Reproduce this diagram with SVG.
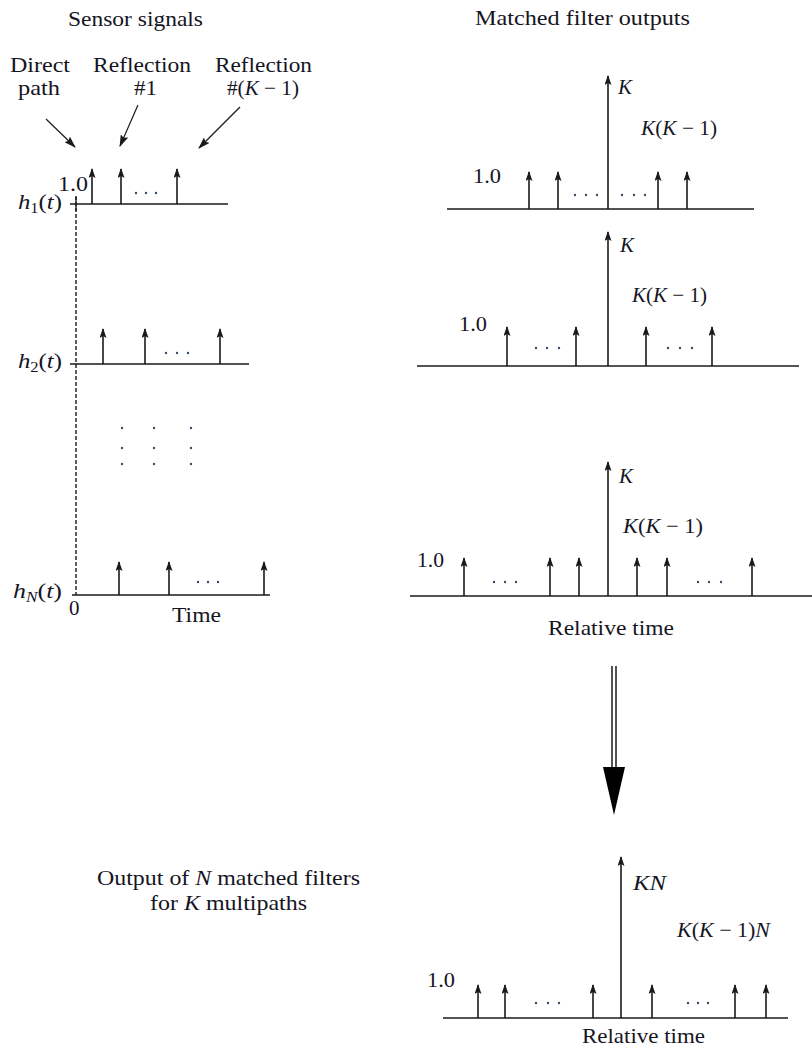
<svg xmlns="http://www.w3.org/2000/svg" width="812" height="1046" viewBox="0 0 812 1046">
<defs>
<style>
.t{font-family:"Liberation Serif","Times New Roman",Times,serif;font-size:21px;fill:#15151f}
.i{font-style:italic}
.ax{stroke:#1a1a1a;stroke-width:1.6;fill:none}
.imp{stroke:#1a1a1a;stroke-width:1.6;fill:none;marker-end:url(#ah)}
.ptr{stroke:#1a1a1a;stroke-width:1.2;fill:none;marker-end:url(#ap)}
.dot{fill:#3a4a6a}
</style>
<marker id="ah" viewBox="0 0 10 7" refX="9" refY="3.5" markerWidth="10" markerHeight="7" markerUnits="userSpaceOnUse" orient="auto">
<path d="M0,0 L10,3.5 L0,7 L2,3.5 Z" fill="#1a1a1a"/>
</marker>
<marker id="ap" viewBox="0 0 12 8" refX="11" refY="4" markerWidth="12" markerHeight="8" markerUnits="userSpaceOnUse" orient="auto">
<path d="M0,0 L12,4 L0,8 L2,4 Z" fill="#1a1a1a"/>
</marker>
</defs>

<g id="titles">
<text class="t" x="68" y="26" textLength="135" lengthAdjust="spacingAndGlyphs">Sensor signals</text>
<text class="t" x="475" y="25" textLength="215" lengthAdjust="spacingAndGlyphs">Matched filter outputs</text>
</g>

<g id="path-labels">
<text class="t" x="10" y="72" textLength="60" lengthAdjust="spacingAndGlyphs">Direct</text>
<text class="t" x="18" y="95" textLength="42" lengthAdjust="spacingAndGlyphs">path</text>
<text class="t" x="93" y="72" textLength="98" lengthAdjust="spacingAndGlyphs">Reflection</text>
<text class="t" x="134" y="95" textLength="23" lengthAdjust="spacingAndGlyphs">#1</text>
<text class="t" x="215" y="72" textLength="97" lengthAdjust="spacingAndGlyphs">Reflection</text>
<text class="t" x="227" y="95" textLength="72" lengthAdjust="spacingAndGlyphs">#(<tspan class="i">K</tspan> − 1)</text>
</g>

<g id="sensor-h1">
<text class="t" x="18" y="209" font-size="22" textLength="44" lengthAdjust="spacingAndGlyphs"><tspan class="i">h</tspan><tspan font-size="14" dy="4">1</tspan><tspan dy="-4">(</tspan><tspan class="i">t</tspan>)</text>
<text class="t" x="58" y="191" textLength="30" lengthAdjust="spacingAndGlyphs">1.0</text>
<line class="ax" x1="70" y1="204" x2="228" y2="204"/>
<line class="imp" x1="92" y1="204" x2="92" y2="169"/>
<line class="imp" x1="121" y1="204" x2="121" y2="169"/>
<line class="imp" x1="177" y1="204" x2="177" y2="169"/>
<circle class="dot" cx="136" cy="193" r="1.2"/><circle class="dot" cx="146" cy="193" r="1.2"/><circle class="dot" cx="156" cy="193" r="1.2"/>
</g>

<g id="sensor-h2">
<text class="t" x="18" y="368" font-size="22" textLength="44" lengthAdjust="spacingAndGlyphs"><tspan class="i">h</tspan><tspan font-size="14" dy="4">2</tspan><tspan dy="-4">(</tspan><tspan class="i">t</tspan>)</text>
<line class="ax" x1="70" y1="364" x2="249" y2="364"/>
<line class="imp" x1="103" y1="364" x2="103" y2="329"/>
<line class="imp" x1="145" y1="364" x2="145" y2="329"/>
<line class="imp" x1="220" y1="364" x2="220" y2="329"/>
<circle class="dot" cx="166" cy="353" r="1.2"/><circle class="dot" cx="177" cy="353" r="1.2"/><circle class="dot" cx="188" cy="353" r="1.2"/>
</g>

<g id="sensor-dots">
<circle class="dot" cx="122" cy="428" r="1.2"/><circle class="dot" cx="154" cy="428" r="1.2"/><circle class="dot" cx="191" cy="428" r="1.2"/>
<circle class="dot" cx="122" cy="448" r="1.2"/><circle class="dot" cx="154" cy="448" r="1.2"/><circle class="dot" cx="191" cy="448" r="1.2"/>
<circle class="dot" cx="122" cy="464" r="1.2"/><circle class="dot" cx="154" cy="464" r="1.2"/><circle class="dot" cx="191" cy="464" r="1.2"/>
</g>

<g id="sensor-hN">
<text class="t" x="13" y="598" font-size="22" textLength="49" lengthAdjust="spacingAndGlyphs"><tspan class="i">h</tspan><tspan font-size="14" class="i" dy="4">N</tspan><tspan dy="-4">(</tspan><tspan class="i">t</tspan>)</text>
<line class="ax" x1="72" y1="595" x2="270" y2="595"/>
<line class="imp" x1="119" y1="595" x2="119" y2="562"/>
<line class="imp" x1="169" y1="595" x2="169" y2="562"/>
<line class="imp" x1="264" y1="595" x2="264" y2="562"/>
<circle class="dot" cx="198" cy="582" r="1.2"/><circle class="dot" cx="208" cy="582" r="1.2"/><circle class="dot" cx="218" cy="582" r="1.2"/>
<text class="t" x="69" y="615">0</text>
<text class="t" x="172" y="622" textLength="49" lengthAdjust="spacingAndGlyphs">Time</text>
</g>

<g id="time-zero-line">
<line x1="76" y1="196" x2="76" y2="595" stroke="#1a1a1a" stroke-width="1.4" stroke-dasharray="4,2"/>
<line x1="76" y1="197" x2="76" y2="211" stroke="#1a1a1a" stroke-width="1.4"/>
</g>

<g id="mf-1">
<line class="ax" x1="447" y1="209" x2="754" y2="209"/>
<line class="imp" x1="608" y1="209" x2="608" y2="76"/>
<line class="imp" x1="529" y1="209" x2="529" y2="172"/>
<line class="imp" x1="558" y1="209" x2="558" y2="172"/>
<line class="imp" x1="658" y1="209" x2="658" y2="172"/>
<line class="imp" x1="687" y1="209" x2="687" y2="172"/>
<circle class="dot" cx="575" cy="195" r="1.2"/><circle class="dot" cx="586" cy="195" r="1.2"/><circle class="dot" cx="597" cy="195" r="1.2"/>
<circle class="dot" cx="622" cy="195" r="1.2"/><circle class="dot" cx="634" cy="195" r="1.2"/><circle class="dot" cx="645" cy="195" r="1.2"/>
<text class="t i" x="618" y="94">K</text>
<text class="t" x="641" y="135" textLength="76" lengthAdjust="spacingAndGlyphs"><tspan class="i">K</tspan>(<tspan class="i">K</tspan> − 1)</text>
<text class="t" x="473" y="183" textLength="28" lengthAdjust="spacingAndGlyphs">1.0</text>
</g>

<g id="mf-2">
<line class="ax" x1="417" y1="366" x2="799" y2="366"/>
<line class="imp" x1="608" y1="366" x2="608" y2="232"/>
<line class="imp" x1="507" y1="366" x2="507" y2="327"/>
<line class="imp" x1="576" y1="366" x2="576" y2="327"/>
<line class="imp" x1="646" y1="366" x2="646" y2="327"/>
<line class="imp" x1="712" y1="366" x2="712" y2="327"/>
<circle class="dot" cx="536" cy="348" r="1.2"/><circle class="dot" cx="547" cy="348" r="1.2"/><circle class="dot" cx="559" cy="348" r="1.2"/>
<circle class="dot" cx="668" cy="348" r="1.2"/><circle class="dot" cx="680" cy="348" r="1.2"/><circle class="dot" cx="692" cy="348" r="1.2"/>
<text class="t i" x="620" y="252">K</text>
<text class="t" x="632" y="302" textLength="75" lengthAdjust="spacingAndGlyphs"><tspan class="i">K</tspan>(<tspan class="i">K</tspan> − 1)</text>
<text class="t" x="459" y="331" textLength="28" lengthAdjust="spacingAndGlyphs">1.0</text>
</g>

<g id="mf-N">
<line class="ax" x1="410" y1="596" x2="812" y2="596"/>
<line class="imp" x1="608" y1="596" x2="608" y2="462"/>
<line class="imp" x1="464" y1="596" x2="464" y2="558"/>
<line class="imp" x1="550" y1="596" x2="550" y2="558"/>
<line class="imp" x1="579" y1="596" x2="579" y2="558"/>
<line class="imp" x1="637" y1="596" x2="637" y2="558"/>
<line class="imp" x1="667" y1="596" x2="667" y2="558"/>
<line class="imp" x1="752" y1="596" x2="752" y2="558"/>
<circle class="dot" cx="494" cy="582" r="1.2"/><circle class="dot" cx="505" cy="582" r="1.2"/><circle class="dot" cx="516" cy="582" r="1.2"/>
<circle class="dot" cx="698" cy="582" r="1.2"/><circle class="dot" cx="709" cy="582" r="1.2"/><circle class="dot" cx="721" cy="582" r="1.2"/>
<text class="t i" x="619" y="483">K</text>
<text class="t" x="623" y="533" textLength="80" lengthAdjust="spacingAndGlyphs"><tspan class="i">K</tspan>(<tspan class="i">K</tspan> − 1)</text>
<text class="t" x="417" y="567" textLength="27" lengthAdjust="spacingAndGlyphs">1.0</text>
<text class="t" x="548" y="635" textLength="126" lengthAdjust="spacingAndGlyphs">Relative time</text>
</g>

<g id="combined-label">
<text class="t" x="97" y="885" textLength="263" lengthAdjust="spacingAndGlyphs">Output of <tspan class="i">N</tspan> matched filters</text>
<text class="t" x="150" y="910" textLength="157" lengthAdjust="spacingAndGlyphs">for <tspan class="i">K</tspan> multipaths</text>
</g>

<g id="combined-output">
<line class="ax" x1="443" y1="1018" x2="788" y2="1018"/>
<line class="imp" x1="621" y1="1018" x2="621" y2="857"/>
<line class="imp" x1="478" y1="1018" x2="478" y2="985"/>
<line class="imp" x1="505" y1="1018" x2="505" y2="985"/>
<line class="imp" x1="593" y1="1018" x2="593" y2="985"/>
<line class="imp" x1="652" y1="1018" x2="652" y2="985"/>
<line class="imp" x1="735" y1="1018" x2="735" y2="985"/>
<line class="imp" x1="766" y1="1018" x2="766" y2="985"/>
<circle class="dot" cx="536" cy="1003" r="1.2"/><circle class="dot" cx="548" cy="1003" r="1.2"/><circle class="dot" cx="559" cy="1003" r="1.2"/>
<circle class="dot" cx="688" cy="1003" r="1.2"/><circle class="dot" cx="698" cy="1003" r="1.2"/><circle class="dot" cx="708" cy="1003" r="1.2"/>
<text class="t i" x="633" y="890" textLength="33" lengthAdjust="spacingAndGlyphs">KN</text>
<text class="t" x="677" y="937" textLength="93" lengthAdjust="spacingAndGlyphs"><tspan class="i">K</tspan>(<tspan class="i">K</tspan> − 1)<tspan class="i">N</tspan></text>
<text class="t" x="427" y="987" textLength="28" lengthAdjust="spacingAndGlyphs">1.0</text>
<text class="t" x="582" y="1043" textLength="123" lengthAdjust="spacingAndGlyphs">Relative time</text>
</g>

<g id="connectors">
<line class="ptr" x1="46" y1="119" x2="75" y2="147"/>
<line class="ptr" x1="138" y1="105" x2="120" y2="146"/>
<line class="ptr" x1="240" y1="107" x2="199" y2="148"/>
<line x1="612" y1="666" x2="612" y2="768" stroke="#1a1a1a" stroke-width="1.5"/>
<line x1="616" y1="666" x2="616" y2="768" stroke="#1a1a1a" stroke-width="1.5"/>
<polygon points="603,767 625,767 614,815" fill="#000"/>
</g>
</svg>
